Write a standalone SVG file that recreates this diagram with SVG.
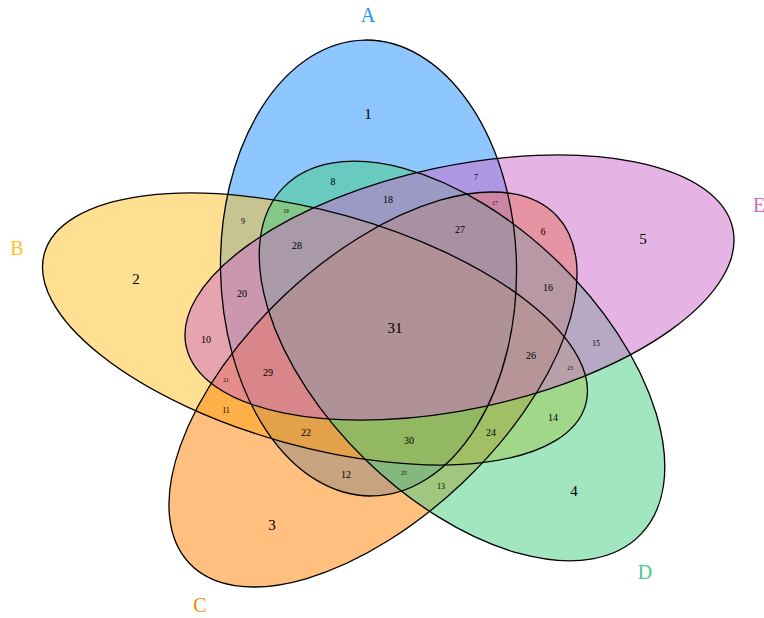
<svg xmlns="http://www.w3.org/2000/svg" width="764" height="618" viewBox="0 0 764 618">
<style>
.f{fill-opacity:0.5;stroke:none}
.o{fill:none;stroke:#000;stroke-width:1.3}
text{font-family:"Liberation Serif","Times New Roman",serif;text-anchor:middle;fill:#000}
.n15{font-size:15px}.n10{font-size:10px}.n8{font-size:8px}.n5{font-size:5.5px}
.cat{font-size:20px}
</style>
<rect width="764" height="618" fill="#fff"/>
<g id="fills">
<ellipse id="fillA" class="f" fill="#1E90FF" cx="368.5" cy="268" rx="148" ry="228" transform="rotate(-1 368.5 268)"/>
<ellipse id="fillB" class="f" fill="#FFC125" cx="315" cy="329" rx="281" ry="117.4" transform="rotate(15.6 315 329)"/>
<ellipse id="fillC" class="f" fill="#FF7F00" cx="373" cy="389.5" rx="252.8" ry="129.3" transform="rotate(-43.4 373 389.5)"/>
<ellipse id="fillD" class="f" fill="#43CD80" cx="462" cy="361" rx="249" ry="138" transform="rotate(44.2 462 361)"/>
<ellipse id="fillE" class="f" fill="#CD69C9" cx="459.5" cy="287.5" rx="279.6" ry="121.5" transform="rotate(-12.15 459.5 287.5)"/>
</g>
<g id="outlines">
<ellipse id="A" class="o" cx="368.5" cy="268" rx="148" ry="228" transform="rotate(-1 368.5 268)"/>
<ellipse id="B" class="o" cx="315" cy="329" rx="281" ry="117.4" transform="rotate(15.6 315 329)"/>
<ellipse id="C" class="o" cx="373" cy="389.5" rx="252.8" ry="129.3" transform="rotate(-43.4 373 389.5)"/>
<ellipse id="D" class="o" cx="462" cy="361" rx="249" ry="138" transform="rotate(44.2 462 361)"/>
<ellipse id="E" class="o" cx="459.5" cy="287.5" rx="279.6" ry="121.5" transform="rotate(-12.15 459.5 287.5)"/>
</g>
<g id="counts">
<text class="n15" x="368" y="119">1</text>
<text class="n15" x="136" y="284">2</text>
<text class="n15" x="272" y="530">3</text>
<text class="n15" x="574" y="496">4</text>
<text class="n15" x="643" y="244">5</text>
<text class="n10" x="543" y="234.5">6</text>
<text class="n8" x="476" y="180">7</text>
<text class="n10" x="333" y="184.5">8</text>
<text class="n8" x="243" y="224">9</text>
<text class="n10" x="206" y="342.5">10</text>
<text class="n8" x="226" y="413">11</text>
<text class="n10" x="346" y="477.5">12</text>
<text class="n8" x="441" y="489">13</text>
<text class="n10" x="553" y="420.5">14</text>
<text class="n8" x="596" y="346">15</text>
<text class="n10" x="548" y="290.5">16</text>
<text class="n5" x="495" y="205">17</text>
<text class="n10" x="388" y="202.5">18</text>
<text class="n5" x="286" y="213">19</text>
<text class="n10" x="242" y="296.5">20</text>
<text class="n5" x="226" y="382">21</text>
<text class="n10" x="306" y="435.5">22</text>
<text class="n5" x="570" y="370">23</text>
<text class="n10" x="491" y="435.5">24</text>
<text class="n5" x="404" y="475">25</text>
<text class="n10" x="531" y="358.5">26</text>
<text class="n10" x="460" y="232.5">27</text>
<text class="n10" x="297" y="248.5">28</text>
<text class="n10" x="268" y="375.5">29</text>
<text class="n10" x="409" y="443.5">30</text>
<text class="n15" x="395" y="333">31</text>
</g>
<g id="categories">
<text class="cat" x="368" y="22" style="fill:#1E90FF">A</text>
<text class="cat" x="17" y="255" style="fill:#FFC125">B</text>
<text class="cat" x="200" y="612" style="fill:#FF7F00">C</text>
<text class="cat" x="645" y="579" style="fill:#43CD80">D</text>
<text class="cat" x="759" y="212" style="fill:#CD69C9">E</text>
</g>
</svg>
